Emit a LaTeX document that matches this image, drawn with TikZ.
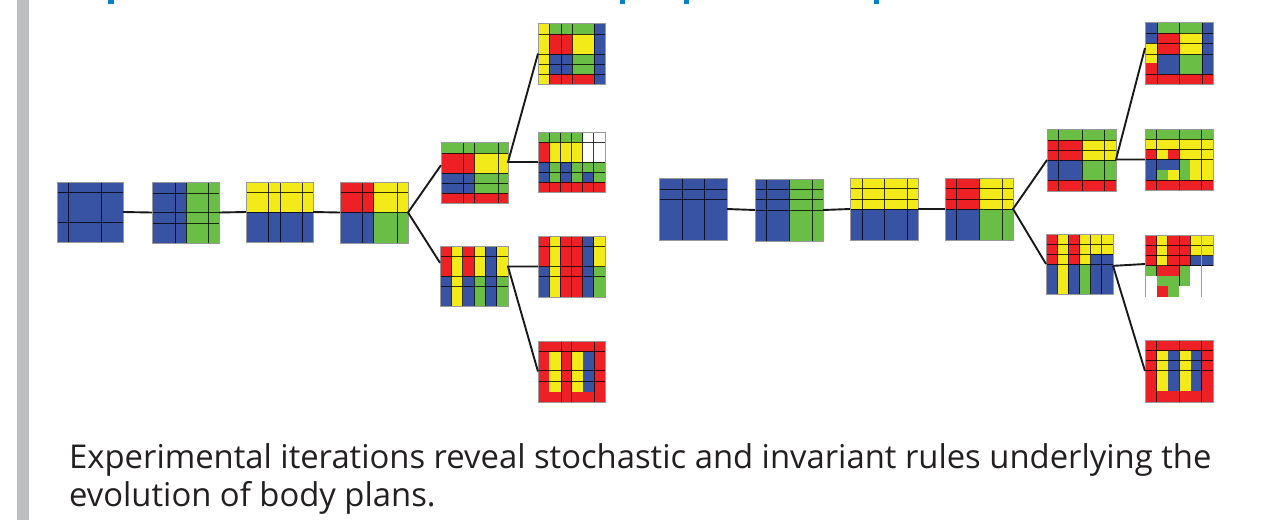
\documentclass[tikz,border=0pt]{standalone}
\usepackage{fontspec}
\setmainfont{Open Sans}
\usetikzlibrary{fit,calc}
\definecolor{cB}{RGB}{57,83,164}
\definecolor{cG}{RGB}{106,189,69}
\definecolor{cY}{RGB}{243,235,25}
\definecolor{cR}{RGB}{237,32,38}
\definecolor{barg}{RGB}{189,190,192}
\definecolor{titleblue}{RGB}{0,130,200}
\definecolor{txt}{RGB}{35,31,32}
\newcommand\cellf[5]{\fill[#1] (#2,#3) rectangle (#4,#5);}
\newcommand\gridv[3]{\draw[gl] (#1,#2) -- (#1,#3);}
\newcommand\gridh[3]{\draw[gl] (#2,#1) -- (#3,#1);}
\newcommand\gnode[5]{\node[gbox, fit={(#2,#3) (#4,#5)}] (#1) {};}
\begin{document}
\begin{tikzpicture}[x=1pt,y=-1pt,
  gl/.style={line width=1pt, black, opacity=0.78},
  gbox/.style={draw=black!40, line width=0.8pt, inner sep=0pt, outer sep=0pt},
  nobox/.style={inner sep=0pt, outer sep=0pt},
  conn/.style={line width=1.9pt, black!90},
  captext/.style={anchor=base west, inner sep=0pt, font=\fontsize{32.8}{40}\selectfont, text=txt}]
\useasboundingbox (0,0) rectangle (1281,520);
\fill[white] (0,0) rectangle (1281,520);
% grey bar
\fill[barg] (17,0) rectangle (29,520);
% title descender fragments
\fill[titleblue] (108,0) rectangle (114,4);
\fill[titleblue] (620,0) rectangle (625,4);
\fill[titleblue] (684,0) rectangle (689,4);
\fill[titleblue] (874,0) rectangle (879,4);

% ---------- LEFT ----------
% L1
\cellf{cB}{57}{182}{123}{242}
\gridv{68}{182}{242}\gridv{101}{182}{242}
\gridh{192}{57}{123}\gridh{222}{57}{123}
\gnode{L1}{57}{182}{123}{242}
% L2
\cellf{cB}{152}{182}{186}{243}\cellf{cG}{186}{182}{219}{243}
\gridv{175}{182}{243}\gridv{186}{182}{243}\gridv{208}{182}{243}
\gridh{193}{152}{219}\gridh{212}{152}{219}\gridh{223}{152}{219}
\gnode{L2}{152}{182}{219}{243}
% L3
\cellf{cY}{246}{182}{313}{212}\cellf{cB}{246}{212}{313}{242}
\gridv{268}{182}{242}\gridv{280}{182}{242}\gridv{302}{182}{242}
\gridh{192}{246}{313}\gridh{212}{246}{313}
\gnode{L3}{246}{182}{313}{242}
% L4
\cellf{cR}{340}{182}{373}{212}\cellf{cY}{373}{182}{408}{212}
\cellf{cB}{340}{212}{373}{243}\cellf{cG}{373}{212}{408}{243}
\gridv{362}{182}{243}\gridv{373}{182}{243}\gridv{397}{182}{243}
\gridh{192}{340}{408}\gridh{212}{340}{408}
\gnode{L4}{340}{182}{408}{243}
% L5a
\cellf{cG}{441}{142}{508}{153}
\cellf{cR}{441}{153}{474}{173}\cellf{cY}{474}{153}{508}{173}
\cellf{cB}{441}{173}{474}{193}\cellf{cG}{474}{173}{508}{193}
\cellf{cR}{441}{193}{508}{203}
\gridv{463}{142}{203}\gridv{474}{142}{203}\gridv{498}{142}{203}
\gridh{153}{441}{508}\gridh{173}{441}{508}\gridh{183}{441}{508}\gridh{193}{441}{508}
\gnode{L5a}{441}{142}{508}{203}
% L5b
\cellf{cR}{440}{246}{451.3}{276}\cellf{cY}{451.3}{246}{462.7}{276}\cellf{cR}{462.7}{246}{474}{276}
\cellf{cY}{474}{246}{485.3}{276}\cellf{cB}{485.3}{246}{496.7}{276}\cellf{cY}{496.7}{246}{508}{276}
\cellf{cB}{440}{276}{451.3}{306}\cellf{cY}{451.3}{276}{462.7}{306}\cellf{cB}{462.7}{276}{474}{306}
\cellf{cG}{474}{276}{485.3}{306}\cellf{cB}{485.3}{276}{496.7}{306}\cellf{cG}{496.7}{276}{508}{306}
\gridv{451.3}{246}{306}\gridv{462.7}{246}{306}\gridv{474}{246}{306}\gridv{485.3}{246}{306}\gridv{496.7}{246}{306}
\gridh{256}{440}{508}\gridh{276}{440}{508}\gridh{286}{440}{508}
\gnode{L5b}{440}{246}{508}{306}
% L6a
\cellf{cY}{538}{23}{549}{84}
\cellf{cG}{549}{23}{594}{34}
\cellf{cR}{549}{34}{572}{54}\cellf{cY}{572}{34}{594}{54}
\cellf{cB}{549}{54}{572}{74}\cellf{cG}{572}{54}{594}{74}
\cellf{cR}{549}{74}{594}{84}
\cellf{cB}{594}{23}{605}{84}
\gridv{549}{23}{84}\gridv{561}{23}{84}\gridv{572}{23}{84}\gridv{594}{23}{84}
\gridh{34}{538}{605}\gridh{54}{538}{605}\gridh{64}{538}{605}\gridh{74}{538}{605}
\gnode{L6a}{538}{23}{605}{84}
% L6b
\cellf{cG}{538}{132}{582.7}{142}
\cellf{cR}{538}{142}{549.2}{162}\cellf{cY}{549.2}{142}{582.7}{162}
\cellf{cB}{538}{162}{549.2}{182}\cellf{cG}{549.2}{162}{560.3}{182}\cellf{cB}{560.3}{162}{571.5}{182}
\cellf{cG}{571.5}{162}{605}{182}\cellf{cB}{582.7}{172}{593.8}{182}
\cellf{cR}{538}{182}{605}{192}
\gridv{549.2}{132}{192}\gridv{560.3}{132}{192}\gridv{571.5}{132}{192}\gridv{582.7}{132}{192}\gridv{593.8}{132}{192}
\gridh{142}{538}{605}\gridh{162}{538}{605}\gridh{172}{538}{605}\gridh{182}{538}{605}
\gnode{L6b}{538}{132}{605}{192}
% L6c
\cellf{cR}{538}{236}{549.2}{266.7}\cellf{cY}{549.2}{236}{560.3}{266.7}\cellf{cR}{560.3}{236}{582.7}{266.7}
\cellf{cB}{582.7}{236}{593.8}{266.7}\cellf{cY}{593.8}{236}{605}{266.7}
\cellf{cB}{538}{266.7}{549.2}{297}\cellf{cY}{549.2}{266.7}{560.3}{297}\cellf{cR}{560.3}{266.7}{582.7}{297}
\cellf{cB}{582.7}{266.7}{593.8}{297}\cellf{cG}{593.8}{266.7}{605}{297}
\gridv{549.2}{236}{297}\gridv{560.3}{236}{297}\gridv{571.5}{236}{297}\gridv{582.7}{236}{297}\gridv{593.8}{236}{297}
\gridh{246}{538}{605}\gridh{266.7}{538}{605}\gridh{276}{538}{605}
\gnode{L6c}{538}{236}{605}{297}
% L6d
\cellf{cR}{538}{341}{605}{402}
\cellf{cY}{549.3}{351.7}{561}{391.7}\cellf{cY}{571.7}{351.7}{583.3}{391.7}\cellf{cB}{583.3}{351.7}{594.3}{391.7}
\gridv{561}{341}{402}\gridv{571.7}{341}{402}\gridv{594.3}{341}{402}
\gridh{351.7}{538}{605}\gridh{370}{538}{605}\gridh{381}{538}{605}
\gnode{L6d}{538}{341}{605}{402}

% ---------- RIGHT ----------
% R1
\cellf{cB}{659}{178}{727}{240}
\gridv{682}{178}{240}\gridv{704}{178}{240}
\gridh{189}{659}{727}\gridh{199}{659}{727}
\gnode{R1}{659}{178}{727}{240}
% R2
\cellf{cB}{755}{179}{789}{241}\cellf{cG}{789}{179}{823}{241}
\gridv{766}{179}{241}\gridv{789}{179}{241}\gridv{812}{179}{241}
\gridh{189}{755}{823}\gridh{199}{755}{823}\gridh{210}{755}{823}
\gnode{R2}{755}{179}{823}{241}
% R3
\cellf{cY}{850}{178}{918}{209}\cellf{cB}{850}{209}{918}{240}
\gridv{862}{178}{240}\gridv{884}{178}{240}\gridv{907}{178}{240}
\gridh{188}{850}{918}\gridh{199}{850}{918}\gridh{209}{850}{918}
\gnode{R3}{850}{178}{918}{240}
% R4
\cellf{cR}{945}{178}{979}{209}\cellf{cY}{979}{178}{1013}{209}
\cellf{cB}{945}{209}{979}{240}\cellf{cG}{979}{209}{1013}{240}
\gridv{956}{178}{240}\gridv{979}{178}{240}\gridv{1002}{178}{240}
\gridh{188}{945}{1013}\gridh{199}{945}{1013}\gridh{209}{945}{1013}
\gnode{R4}{945}{178}{1013}{240}
% R5a
\cellf{cG}{1047}{129}{1116}{140}
\cellf{cR}{1047}{140}{1082}{160}\cellf{cY}{1082}{140}{1116}{160}
\cellf{cB}{1047}{160}{1082}{180}\cellf{cG}{1082}{160}{1116}{180}
\cellf{cR}{1047}{180}{1116}{191}
\gridv{1058}{129}{191}\gridv{1082}{129}{191}\gridv{1104}{129}{191}
\gridh{140}{1047}{1116}\gridh{150}{1047}{1116}\gridh{160}{1047}{1116}\gridh{180}{1047}{1116}
\gnode{R5a}{1047}{129}{1116}{191}
% R5b
\cellf{cR}{1046}{234}{1057.2}{264}\cellf{cB}{1046}{264}{1057.2}{294}
\cellf{cY}{1057.2}{234}{1068.3}{294}
\cellf{cR}{1068.3}{234}{1079.5}{264}\cellf{cB}{1068.3}{264}{1079.5}{294}
\cellf{cY}{1079.5}{234}{1090.7}{264}\cellf{cG}{1079.5}{264}{1090.7}{294}
\cellf{cY}{1090.7}{234}{1113}{254}\cellf{cB}{1090.7}{254}{1113}{294}
\gridv{1057.2}{234}{294}\gridv{1068.3}{234}{294}\gridv{1079.5}{234}{294}\gridv{1090.7}{234}{294}\gridv{1101.8}{234}{294}
\gridh{244}{1046}{1113}\gridh{254}{1046}{1113}\gridh{264}{1046}{1113}
\gnode{R5b}{1046}{234}{1113}{294}
% R6a
\cellf{cB}{1145}{22}{1157}{43}\cellf{cY}{1145}{43}{1157}{63}\cellf{cR}{1145}{63}{1157}{84}
\cellf{cG}{1157}{22}{1202}{33}
\cellf{cR}{1157}{33}{1179}{54}\cellf{cY}{1179}{33}{1202}{54}
\cellf{cB}{1157}{54}{1179}{74}\cellf{cG}{1179}{54}{1202}{74}
\cellf{cR}{1157}{74}{1213}{84}
\cellf{cB}{1202}{22}{1213}{74}
\gridv{1157}{22}{84}\gridv{1179}{22}{84}\gridv{1202}{22}{84}
\gridh{33}{1145}{1213}\gridh{43}{1145}{1213}\gridh{54}{1145}{1213}\gridh{74}{1145}{1213}
\gnode{R6a}{1145}{22}{1213}{84}
% R6b
\cellf{cG}{1145}{129}{1213}{139}
\cellf{cY}{1145}{139}{1213}{149}
\cellf{cR}{1145}{149}{1156.7}{159}\cellf{cY}{1156.7}{149}{1167.7}{159}\cellf{cR}{1167.7}{149}{1179.3}{159}\cellf{cY}{1179.3}{149}{1213}{159}
\cellf{cB}{1145}{159}{1179.3}{170}\cellf{cB}{1145}{170}{1156.7}{180}
\cellf{cG}{1156.7}{170}{1167.7}{180}\cellf{cY}{1167.7}{170}{1179.3}{180}
\cellf{cG}{1179.3}{159}{1190}{180}\cellf{cY}{1190}{159}{1213}{180}
\cellf{cR}{1145}{180}{1213}{190}
\gridv{1156.7}{129}{190}\gridv{1179.3}{129}{190}\gridv{1201.7}{129}{190}
\gridh{139}{1145}{1213}\gridh{149}{1145}{1213}\gridh{159}{1145}{1213}\gridh{180}{1145}{1213}
\gnode{R6b}{1145}{129}{1213}{190}
% R6c (partial)
\cellf{cR}{1145}{235}{1156.7}{265.7}\cellf{cY}{1156.7}{235}{1167.7}{265.7}\cellf{cR}{1167.7}{235}{1190}{265.7}
\cellf{cY}{1190}{235}{1213}{255.7}\cellf{cB}{1190}{255.7}{1213}{265.7}
\cellf{cG}{1145}{265.7}{1156.7}{275.7}
\cellf{cR}{1156.7}{265.7}{1179.3}{275.7}
\cellf{cG}{1156.7}{275.7}{1179.3}{296.7}
\cellf{cR}{1156.7}{285.7}{1167.7}{296.7}
\cellf{cG}{1179.3}{265.7}{1190}{285.7}
\gridv{1156.7}{235}{275.7}\gridv{1167.7}{235}{265.7}\gridv{1179.3}{235}{285.7}\gridv{1190}{235}{265.7}
\gridh{245.7}{1145}{1213}\gridh{255.7}{1145}{1213}\gridh{265.7}{1145}{1213}
\draw[black!40, line width=0.8pt] (1145,235) -- (1145,296.7);
\draw[black!40, line width=0.8pt] (1201.7,235) -- (1201.7,296.7);
\draw[black!40, line width=0.8pt] (1145,235) -- (1213,235) -- (1213,265.7);
\node[nobox, fit={(1145,235) (1213,296.7)}] (R6c) {};
% R6d
\cellf{cR}{1145}{340}{1213}{402}
\cellf{cY}{1156.7}{350.7}{1168.3}{391}\cellf{cB}{1168.3}{350.7}{1179.3}{391}
\cellf{cY}{1179.3}{350.7}{1190.7}{391}\cellf{cB}{1190.7}{350.7}{1201.7}{391}
\gridv{1156.7}{340}{402}\gridv{1179.3}{340}{402}\gridv{1201.7}{340}{402}
\gridh{350.7}{1145}{1213}\gridh{360.7}{1145}{1213}\gridh{370.7}{1145}{1213}
\gnode{R6d}{1145}{340}{1213}{402}

% ---------- connectors ----------
\draw[conn] (L1.east) -- (L2.west);
\draw[conn] (L2.east) -- (L3.west);
\draw[conn] (L3.east) -- (L4.west);
\draw[conn] ($(L5a.north west)!0.38!(L5a.south west)$) -- (L4.east) -- ($(L5b.north west)!0.28!(L5b.south west)$);
\draw[conn] (L6a.west) -- (L6b.west -| L5a.east) -- (L6b.west);
\draw[conn] (L6c.west) -- (L6c.west -| L5b.east) -- (L6d.west);
\draw[conn] (R1.east) -- (R2.west);
\draw[conn] (R2.east) -- (R3.west);
\draw[conn] (R3.east) -- (R4.west);
\draw[conn] (R5a.west) -- (R4.east) -- (R5b.west);
\draw[conn] ($(R6a.north west)!0.42!(R6a.south west)$) -- (R6b.west -| R5a.east) -- (R6b.west);
\draw[conn] (R6c.west -| R5b.east) -- ($(R6c.north west)!0.47!(R6c.south west)$);
\draw[conn] (R6c.west -| R5b.east) -- (R6d.west);

% ---------- caption ----------
\node[captext] (cap1) at (69,468) {Experimental iterations reveal stochastic and invariant rules underlying the};
\node[captext] (cap2) at (69,506) {evolution of body plans.};
\end{tikzpicture}
\end{document}
